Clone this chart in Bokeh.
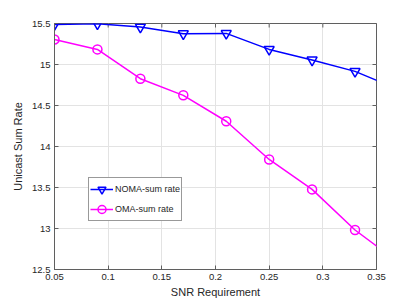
import math
from bokeh.plotting import figure
from bokeh.models import (Range1d, FixedTicker, CustomJSTickFormatter, Legend, LegendItem)
from bokeh.embed import file_html
from bokeh.resources import INLINE

snr = [0.05, 0.09, 0.13, 0.17, 0.21, 0.25, 0.29, 0.33, 0.37]
noma = [15.488, 15.496, 15.456, 15.375, 15.379, 15.184, 15.055, 14.916, 14.70]
oma = [15.305, 15.184, 14.827, 14.624, 14.308, 13.842, 13.477, 12.982, 12.59]
x_ticks = [0.05, 0.1, 0.15, 0.2, 0.25, 0.3, 0.35]
y_ticks = [12.5, 13, 13.5, 14, 14.5, 15, 15.5]
x_lo, x_hi = 0.05, 0.35
y_lo, y_hi = 12.5, 15.5

FONT = "Liberation Sans"
TXT = "#262626"
AX = "#5f5f5f"

p = figure(width=410, height=300, output_backend="svg", toolbar_location=None,
           x_range=Range1d(x_lo, x_hi), y_range=Range1d(y_lo, y_hi),
           min_border_left=54, min_border_right=34, min_border_top=23, min_border_bottom=31)
p.outline_line_color = AX
p.outline_line_width = 1

fmt = CustomJSTickFormatter(code="return String(Number(tick.toFixed(2)));")

for ax, ticks in ((p.xaxis[0], x_ticks), (p.yaxis[0], y_ticks)):
    ax.ticker = FixedTicker(ticks=ticks)
    ax.formatter = fmt
    ax.major_tick_in = 4
    ax.major_tick_out = 0
    ax.minor_tick_in = 0
    ax.minor_tick_out = 0
    ax.axis_line_color = AX
    ax.major_tick_line_color = AX
    ax.major_label_text_font = FONT
    ax.major_label_text_color = TXT
    ax.major_label_text_font_size = "9.5px"
    ax.axis_label_text_font = FONT
    ax.axis_label_text_color = TXT
    ax.axis_label_text_font_size = "11px"
    ax.axis_label_text_font_style = "normal"

p.xaxis[0].axis_label = "SNR Requirement"
p.yaxis[0].axis_label = "Unicast Sum Rate"
p.xaxis[0].major_label_standoff = 4
p.xaxis[0].axis_label_standoff = 3
p.yaxis[0].major_label_standoff = 4
p.yaxis[0].axis_label_standoff = 5

# inside ticks on top and right edges (half of each dash is clipped by the frame)
p.scatter(x_ticks, [y_hi] * len(x_ticks), marker="dash", size=8, angle=math.pi / 2,
          line_color=AX, line_width=1)
p.scatter([x_hi] * len(y_ticks), y_ticks, marker="dash", size=8,
          line_color=AX, line_width=1)

p.xgrid.ticker = FixedTicker(ticks=x_ticks)
p.ygrid.ticker = FixedTicker(ticks=y_ticks)
p.xgrid.grid_line_color = "#e3e3e3"
p.ygrid.grid_line_color = "#e3e3e3"

BLUE = "#0000ff"
MAG = "#ff00ff"
l1 = p.line(snr, noma, line_color=BLUE, line_width=1.5)
m1 = p.scatter(snr, noma, marker="inverted_triangle", size=10, fill_color=None,
               line_color=BLUE, line_width=1.5)
l2 = p.line(snr, oma, line_color=MAG, line_width=1.5)
m2 = p.scatter(snr, oma, marker="circle", size=9, fill_color=None,
               line_color=MAG, line_width=1.5)

legend = Legend(items=[LegendItem(label="NOMA-sum rate", renderers=[l1, m1]),
                       LegendItem(label="OMA-sum rate", renderers=[l2, m2])],
                location=(34, 48))
legend.label_text_font = FONT
legend.label_text_font_size = "9px"
legend.label_text_color = TXT
legend.glyph_width = 23
legend.glyph_height = 20
legend.label_height = 14
legend.label_standoff = 2
legend.spacing = -4
legend.padding = 1
legend.margin = 0
legend.border_line_color = "#333333"
legend.border_line_width = 1
legend.background_fill_alpha = 1
p.add_layout(legend, "center")

open("out.html", "w").write(file_html(p, INLINE))
